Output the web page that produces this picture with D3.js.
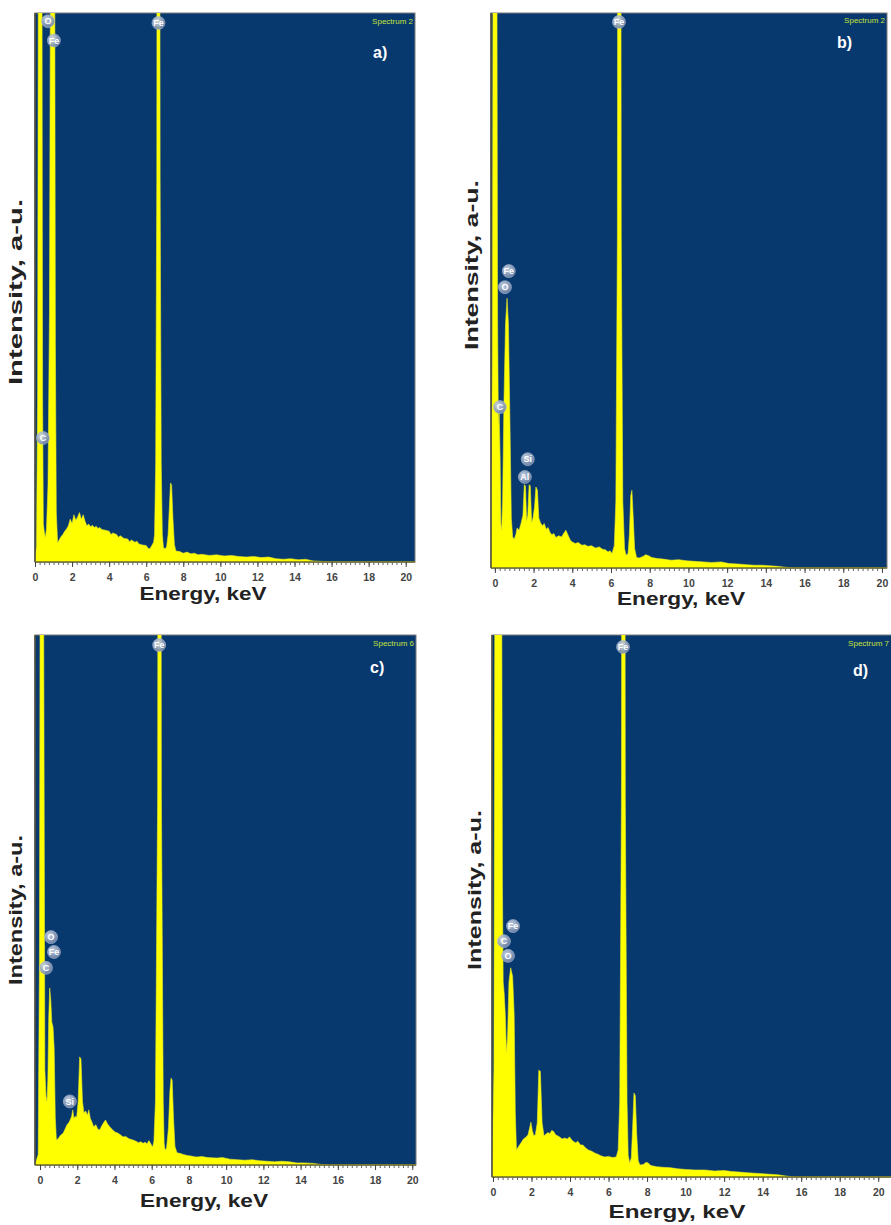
<!DOCTYPE html>
<html>
<head>
<meta charset="utf-8">
<script src="https://cdn.jsdelivr.net/npm/d3@7/dist/d3.min.js"></script>
<style>
  body { margin: 0; background: #fff; }
  svg { display: block; font-family: 'Liberation Sans', Arial, sans-serif; }
</style>
</head>
<body>
<svg id="chart" width="891" height="1225"></svg>
<script>
// spectra: [energy keV, intensity in % of plot height] (peaks above 100 are cut off)
const spectrumA = [
  [0.00, 0], [0.08, 3], [0.14, 30], [0.2, 150], [0.28, 400], [0.36, 150], [0.41, 30], [0.45, 7], [0.5, 5.5],
  [0.56, 4.5], [0.62, 6], [0.7, 14], [0.78, 45], [0.86, 140], [0.96, 400], [1.05, 140], [1.1, 40], [1.15, 9],
  [1.22, 3.5], [1.3, 4.0], [1.4, 4.6], [1.5, 5.0], [1.6, 5.6], [1.7, 6.0], [1.8, 6.6], [1.9, 7.8], [2.0, 7.0],
  [2.1, 8.6], [2.2, 7.6], [2.3, 8.2], [2.4, 9.0], [2.5, 7.8], [2.6, 8.6], [2.7, 7.4], [2.8, 6.6], [2.9, 6.9],
  [3.0, 6.4], [3.1, 6.7], [3.2, 6.3], [3.3, 6.5], [3.4, 6.1], [3.5, 6.3], [3.6, 5.9], [3.8, 5.8], [4.0, 5.6],
  [4.1, 5.0], [4.2, 5.3], [4.4, 5.0], [4.5, 4.5], [4.6, 4.8], [4.8, 4.3], [5.0, 4.2], [5.1, 3.7], [5.2, 4.0],
  [5.4, 3.6], [5.5, 3.8], [5.6, 3.3], [5.8, 3.1], [6.0, 3.0], [6.1, 2.5], [6.2, 2.4], [6.3, 3.0], [6.4, 3.6],
  [6.45, 5], [6.51, 18], [6.57, 70], [6.66, 400], [6.75, 70], [6.81, 18], [6.87, 5], [6.93, 2.6],
  [7.02, 2.4], [7.1, 2.8], [7.18, 5], [7.25, 10], [7.31, 14.4], [7.37, 14], [7.44, 8], [7.52, 3.2], [7.6, 2.0],
  [7.8, 1.9], [8.0, 1.6], [8.2, 1.8], [8.4, 1.5], [8.6, 1.6], [8.8, 1.3], [9.0, 1.4], [9.4, 1.2], [9.8, 1.3],
  [10.2, 1.1], [10.6, 1.2], [11.0, 1.0], [11.4, 0.9], [11.8, 1.0], [12.2, 0.8], [12.6, 0.9], [13.0, 0.6],
  [13.4, 0.5], [13.8, 0.6], [14.2, 0.4], [14.6, 0.5], [15.0, 0.2], [15.5, 0.1], [16.0, 0], [20.5, 0]
];
const spectrumB = [
  [-0.2, 0], [-0.13, 40], [-0.06, 180], [0.02, 400], [0.1, 120], [0.14, 45], [0.18, 26], [0.22, 28], [0.27, 20],
  [0.31, 8], [0.35, 6.8], [0.4, 12], [0.47, 30], [0.55, 44], [0.63, 48.6], [0.7, 44], [0.78, 26], [0.85, 9],
  [0.92, 5.6], [1.0, 5.2], [1.08, 6.0], [1.15, 7.2], [1.25, 6.8], [1.35, 8.0], [1.45, 9.5], [1.52, 15],
  [1.58, 14.8], [1.64, 8.5], [1.7, 9.5], [1.77, 15], [1.83, 14.8], [1.9, 8.2], [1.97, 9.0], [2.05, 11],
  [2.12, 14.6], [2.2, 14], [2.27, 9], [2.35, 8.2], [2.45, 7.6], [2.55, 8.0], [2.65, 7.0], [2.75, 7.3],
  [2.85, 6.4], [2.95, 6.0], [3.05, 6.2], [3.15, 5.5], [3.3, 5.8], [3.45, 5.6], [3.55, 6.2], [3.67, 6.8],
  [3.77, 6.0], [3.9, 5.0], [4.0, 4.7], [4.15, 4.4], [4.3, 4.6], [4.5, 4.1], [4.65, 4.2], [4.8, 3.9], [5.0, 4.0],
  [5.2, 3.6], [5.4, 3.8], [5.55, 3.4], [5.7, 3.3], [5.85, 2.9], [5.95, 3.1], [6.05, 2.6], [6.17, 4], [6.25, 12],
  [6.33, 60], [6.43, 400], [6.53, 60], [6.61, 12], [6.7, 3.5], [6.78, 2.3], [6.88, 2.6], [6.95, 6], [7.02, 13],
  [7.08, 14], [7.15, 9], [7.22, 3.5], [7.32, 1.9], [7.45, 1.8], [7.6, 2.0], [7.8, 2.4], [7.95, 2.2], [8.1, 1.9],
  [8.4, 1.7], [8.7, 1.6], [9.1, 1.4], [9.5, 1.5], [9.9, 1.3], [10.3, 1.2], [10.8, 1.1], [11.2, 1.0], [11.7, 1.1],
  [12.1, 0.8], [12.6, 0.7], [13.0, 0.6], [13.4, 0.5], [13.8, 0.5], [14.2, 0.4], [14.6, 0.3], [15.0, 0.15],
  [15.4, 0], [20.26, 0]
];
const spectrumC = [
  [-0.27, 0], [-0.1, 2], [-0.03, 40], [0.05, 200], [0.12, 400], [0.2, 100], [0.26, 18], [0.32, 13], [0.37, 12],
  [0.42, 16], [0.47, 28], [0.52, 33.4], [0.58, 31], [0.63, 27], [0.7, 26], [0.76, 22], [0.82, 9], [0.88, 4.7],
  [0.98, 5.0], [1.1, 5.6], [1.24, 6.0], [1.35, 6.8], [1.45, 7.6], [1.55, 8.0], [1.62, 8.5], [1.7, 9.2],
  [1.76, 10.4], [1.82, 8.8], [1.9, 9.2], [1.97, 9.0], [2.05, 12], [2.13, 20.4], [2.2, 20], [2.28, 12],
  [2.36, 9.8], [2.45, 10.2], [2.55, 9.4], [2.62, 10.4], [2.7, 8.8], [2.8, 8.0], [2.88, 7.2], [3.0, 7.6],
  [3.1, 6.8], [3.2, 6.6], [3.32, 7.4], [3.42, 8.0], [3.52, 8.5], [3.62, 7.8], [3.75, 7.2], [3.9, 6.6],
  [4.05, 6.2], [4.2, 6.0], [4.35, 5.6], [4.46, 5.3], [4.6, 5.4], [4.75, 5.0], [4.9, 4.8], [5.0, 4.7],
  [5.15, 4.5], [5.3, 4.2], [5.4, 4.4], [5.54, 4.1], [5.65, 4.3], [5.75, 4.0], [5.85, 4.6], [5.95, 4.0],
  [6.05, 3.4], [6.12, 4.5], [6.2, 12], [6.32, 70], [6.42, 400], [6.52, 70], [6.62, 12], [6.67, 4],
  [6.72, 2.8], [6.8, 3.2], [6.9, 7], [6.98, 14], [7.04, 16.4], [7.1, 16], [7.17, 9], [7.25, 3.5], [7.36, 2.3],
  [7.5, 2.2], [7.7, 2.0], [7.9, 1.8], [8.1, 1.7], [8.4, 1.5], [8.7, 1.6], [9.0, 1.4], [9.5, 1.3], [9.8, 1.4],
  [10.2, 1.1], [10.6, 1.0], [11.0, 0.9], [11.4, 1.0], [11.8, 0.8], [12.2, 0.7], [12.6, 0.6], [13.0, 0.7],
  [13.4, 0.6], [13.8, 0.4], [14.2, 0.4], [14.7, 0.3], [15.1, 0.1], [15.5, 0], [20.2, 0]
];
const spectrumD = [
  [-0.05, 0], [0.05, 20], [0.12, 150], [0.28, 400], [0.43, 150], [0.49, 55], [0.53, 36], [0.58, 34], [0.64, 30],
  [0.7, 23], [0.76, 26], [0.83, 36], [0.92, 38.6], [1.02, 37], [1.1, 30], [1.16, 12], [1.22, 5.0], [1.32, 5.6],
  [1.46, 6.3], [1.58, 7.0], [1.72, 7.4], [1.82, 7.8], [1.9, 9.0], [1.97, 10.1], [2.04, 8.6], [2.12, 7.6],
  [2.2, 7.8], [2.3, 10], [2.38, 19.7], [2.46, 19.5], [2.55, 10], [2.65, 7.6], [2.75, 7.9], [2.85, 8.2],
  [2.95, 8.0], [3.05, 8.6], [3.15, 8.4], [3.25, 7.8], [3.35, 7.6], [3.46, 7.4], [3.6, 7.0], [3.7, 7.2],
  [3.85, 7.0], [3.98, 7.4], [4.1, 6.8], [4.2, 6.5], [4.3, 6.3], [4.4, 6.6], [4.55, 5.9], [4.67, 5.9],
  [4.8, 5.4], [4.95, 5.0], [5.1, 4.8], [5.3, 4.4], [5.45, 4.2], [5.6, 3.9], [5.8, 3.7], [6.0, 3.8], [6.2, 3.6],
  [6.4, 3.7], [6.5, 5], [6.58, 14], [6.67, 70], [6.77, 400], [6.87, 70], [6.96, 14], [7.02, 4],
  [7.1, 2.6], [7.18, 3.5], [7.25, 9], [7.32, 15.5], [7.39, 15], [7.46, 8], [7.54, 3], [7.63, 2.2], [7.8, 2.3],
  [7.95, 2.7], [8.05, 2.6], [8.2, 2.1], [8.5, 1.9], [8.8, 1.8], [9.24, 1.7], [9.6, 1.5], [10.0, 1.4],
  [10.5, 1.3], [11.0, 1.3], [11.5, 1.1], [12.0, 1.2], [12.4, 1.0], [12.8, 0.9], [13.2, 0.8], [13.6, 0.7],
  [14.0, 0.6], [14.4, 0.5], [14.8, 0.4], [15.2, 0.2], [15.6, 0], [20.87, 0]
];

// element markers: [symbol, keV, height %]
const peaksA = [['O', 0.7, 98.5], ['Fe', 1.02, 95], ['Fe', 6.66, 98.2], ['C', 0.43, 22.6]];
const peaksB = [['Fe', 6.41, 98.4], ['Fe', 0.72, 53.5], ['O', 0.52, 50.6], ['C', 0.26, 29], ['Si', 1.7, 19.6], ['Al', 1.55, 16.4]];
const peaksC = [['Fe', 6.4, 98.1], ['O', 0.59, 43], ['Fe', 0.75, 40.2], ['C', 0.32, 37.2], ['Si', 1.6, 12]];
const peaksD = [['Fe', 6.75, 97.8], ['Fe', 1.04, 46.3], ['C', 0.57, 43.5], ['O', 0.78, 40.8]];

const energyTicks = [0, 2, 4, 6, 8, 10, 12, 14, 16, 18, 20];
const spectrumNames = ['Spectrum 2', 'Spectrum 2', 'Spectrum 6', 'Spectrum 7'];
const panelLetters = ['a)', 'b)', 'c)', 'd)'];
const xTitle = 'Energy, keV';
const yTitle = 'Intensity, a-u.';

const panels = [
  { spectrum: spectrumA, peaks: peaksA, left: 35, right: 415, top: 13, bottom: 562, domain: [0, 20.5],
    letter: [373, 58], name: [413, 24], xt: [203, 600], yt: [22, 292, 186], xl: 127 },
  { spectrum: spectrumB, peaks: peaksB, left: 491, right: 887, top: 13, bottom: 568, domain: [-0.2, 20.26],
    letter: [837, 48], name: [885, 23], xt: [681, 605], yt: [478, 265, 170], xl: 128 },
  { spectrum: spectrumC, peaks: peaksC, left: 35, right: 416, top: 635, bottom: 1165, domain: [-0.27, 20.2],
    letter: [370, 673], name: [414, 646], xt: [204, 1207], yt: [22, 910, 150], xl: 128 },
  { spectrum: spectrumD, peaks: peaksD, left: 492, right: 895, top: 635, bottom: 1177, domain: [-0.05, 20.87],
    letter: [853, 676], name: [889, 646], xt: [677, 1218], yt: [481, 890, 160], xl: 137 }
];

const svg = d3.select('#chart');
const defs = svg.append('defs');

const grad = defs.append('radialGradient').attr('id', 'ball').attr('cx', '40%').attr('cy', '35%').attr('r', '65%');
grad.append('stop').attr('offset', '0%').attr('stop-color', '#d4dcea');
grad.append('stop').attr('offset', '100%').attr('stop-color', '#6f85aa');

panels.forEach((p, i) => {
  const x = d3.scaleLinear().domain(p.domain).range([p.left, p.right]);
  const y = d3.scaleLinear().domain([0, 100]).range([p.bottom, p.top]);

  defs.append('clipPath').attr('id', `clip${i}`)
    .append('rect')
    .attr('x', p.left).attr('y', p.top)
    .attr('width', p.right - p.left).attr('height', p.bottom - p.top);

  const g = svg.append('g');

  g.append('rect')
    .attr('x', p.left).attr('y', p.top)
    .attr('width', p.right - p.left).attr('height', p.bottom - p.top)
    .attr('fill', '#08396e')
    .attr('stroke', '#7a7a7a')
    .attr('stroke-width', 1);

  const area = d3.area()
    .x(d => x(d[0]))
    .y0(y(0))
    .y1(d => y(d[1]));

  g.append('path')
    .datum(p.spectrum)
    .attr('clip-path', `url(#clip${i})`)
    .attr('d', area)
    .attr('fill', '#ffff00')
    .attr('stroke', '#e6e82a')
    .attr('stroke-width', 0.6);

  // left and bottom frame lines
  g.append('line')
    .attr('x1', p.left).attr('x2', p.left).attr('y1', p.top).attr('y2', p.bottom)
    .attr('stroke', '#4a4a3a').attr('stroke-width', 1.5);
  g.append('line')
    .attr('x1', p.left).attr('x2', Math.min(p.right, 891)).attr('y1', p.bottom).attr('y2', p.bottom)
    .attr('stroke', '#6b6b2a').attr('stroke-width', 1.5);

  // axes
  const minor = d3.range(0, 20.01, 0.25);
  g.append('g')
    .attr('transform', `translate(0,${p.bottom})`)
    .call(d3.axisBottom(x).tickValues(minor).tickSize(3).tickFormat(''))
    .call(a => a.select('.domain').remove())
    .call(a => a.selectAll('line').attr('stroke', '#666'));

  const ax = g.append('g')
    .attr('transform', `translate(0,${p.bottom})`)
    .call(d3.axisBottom(x).tickValues(energyTicks).tickSize(5).tickPadding(7));
  ax.select('.domain').remove();
  ax.selectAll('line').attr('stroke', '#444');
  ax.selectAll('text')
    .attr('fill', '#444')
    .attr('font-size', 10.5)
    .attr('font-weight', 'bold');

  // element markers
  const mk = g.selectAll('.mk')
    .data(p.peaks)
    .join('g')
    .attr('transform', d => `translate(${x(d[1])},${y(d[2])})`);
  mk.append('circle')
    .attr('r', 6.5)
    .attr('fill', 'url(#ball)')
    .attr('stroke', '#b8c4d8')
    .attr('stroke-width', 0.6)
    .attr('opacity', 0.92);
  mk.append('text')
    .attr('text-anchor', 'middle')
    .attr('dy', '0.35em')
    .attr('font-size', 9)
    .attr('font-weight', 'bold')
    .attr('fill', '#fff')
    .text(d => d[0]);

  // texts
  g.append('text')
    .attr('x', p.name[0]).attr('y', p.name[1])
    .attr('text-anchor', 'end')
    .attr('font-size', 8)
    .attr('fill', '#c4e23a')
    .text(spectrumNames[i]);

  g.append('text')
    .attr('x', p.letter[0]).attr('y', p.letter[1])
    .attr('font-size', 16)
    .attr('font-weight', 'bold')
    .attr('fill', '#fff')
    .text(panelLetters[i]);

  g.append('text')
    .attr('x', p.xt[0]).attr('y', p.xt[1])
    .attr('text-anchor', 'middle')
    .attr('font-size', 18)
    .attr('font-weight', 'bold')
    .attr('fill', '#222')
    .attr('textLength', p.xl)
    .attr('lengthAdjust', 'spacingAndGlyphs')
    .text(xTitle);

  g.append('text')
    .attr('transform', `translate(${p.yt[0]},${p.yt[1]}) rotate(-90)`)
    .attr('text-anchor', 'middle')
    .attr('font-size', 18)
    .attr('font-weight', 'bold')
    .attr('fill', '#222')
    .attr('textLength', p.yt[2])
    .attr('lengthAdjust', 'spacingAndGlyphs')
    .text(yTitle);
});
</script>
</body>
</html>
